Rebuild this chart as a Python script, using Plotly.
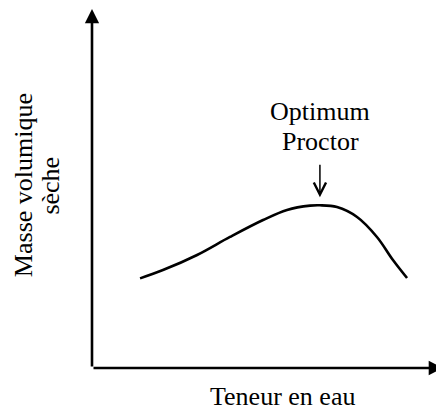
import numpy as np
import plotly.graph_objects as go

# courbe Proctor (unites arbitraires)
teneur_eau = [2.73, 4.03, 5.97, 7.84, 9.72, 11.08, 12.39, 12.95, 13.92, 15.06, 16.19, 17.10, 17.90]
masse_vol = [0.498, 0.544, 0.628, 0.728, 0.822, 0.878, 0.902, 0.904, 0.894, 0.839, 0.728, 0.600, 0.500]

x_label = "Teneur en eau"
y_label = ["Masse volumique", "sèche"]
opt_label = ["Optimum", "Proctor"]

FONT = "Liberation Serif"

fig = go.Figure()
fig.add_trace(go.Scatter(x=teneur_eau, y=masse_vol, mode="lines",
                         line=dict(color="black", width=2.6, shape="spline", smoothing=1.0),
                         hoverinfo="skip", showlegend=False))

i_opt = int(np.argmax(masse_vol))


def label(x, y, text, angle=0):
    return dict(xref="paper", yref="paper", x=x, y=y, text=text, showarrow=False,
                textangle=angle, xanchor="center", yanchor="middle",
                font=dict(family=FONT, size=26, color="black"))


annotations = [
    # axes with arrow heads
    dict(xref="paper", yref="paper", x=0, y=1, ax=0, ay=360, axref="pixel", ayref="pixel",
         showarrow=True, arrowhead=2, arrowsize=1.1, arrowwidth=2.6, arrowcolor="black", text=""),
    dict(xref="paper", yref="paper", x=1, y=0, ax=-352, ay=0, axref="pixel", ayref="pixel",
         showarrow=True, arrowhead=2, arrowsize=1.1, arrowwidth=2.6, arrowcolor="black", text=""),
    # optimum arrow
    dict(x=teneur_eau[i_opt], y=masse_vol[i_opt], ax=0, ay=-42, standoff=8,
         showarrow=True, arrowhead=5, arrowsize=1.6, arrowwidth=1.5, arrowcolor="black", text=""),
    label(0.648, 0.712, opt_label[0]),
    label(0.648, 0.628, opt_label[1]),
    label(0.54, -0.078, x_label),
    label(-0.196, 0.508, y_label[0], -90),
    label(-0.118, 0.508, y_label[1], -90),
]

# the page body has an 8 px margin, so the figure is 8 px smaller each way
fig.update_layout(
    width=436, height=402,
    margin=dict(l=84, r=0, t=0, b=42),
    font=dict(family=FONT, color="black"),
    plot_bgcolor="white", paper_bgcolor="white",
    xaxis=dict(range=[0, 20], visible=False, fixedrange=True),
    yaxis=dict(range=[0, 2], visible=False, fixedrange=True),
    annotations=annotations,
)

fig.write_html("out.html", config={"displayModeBar": False})
